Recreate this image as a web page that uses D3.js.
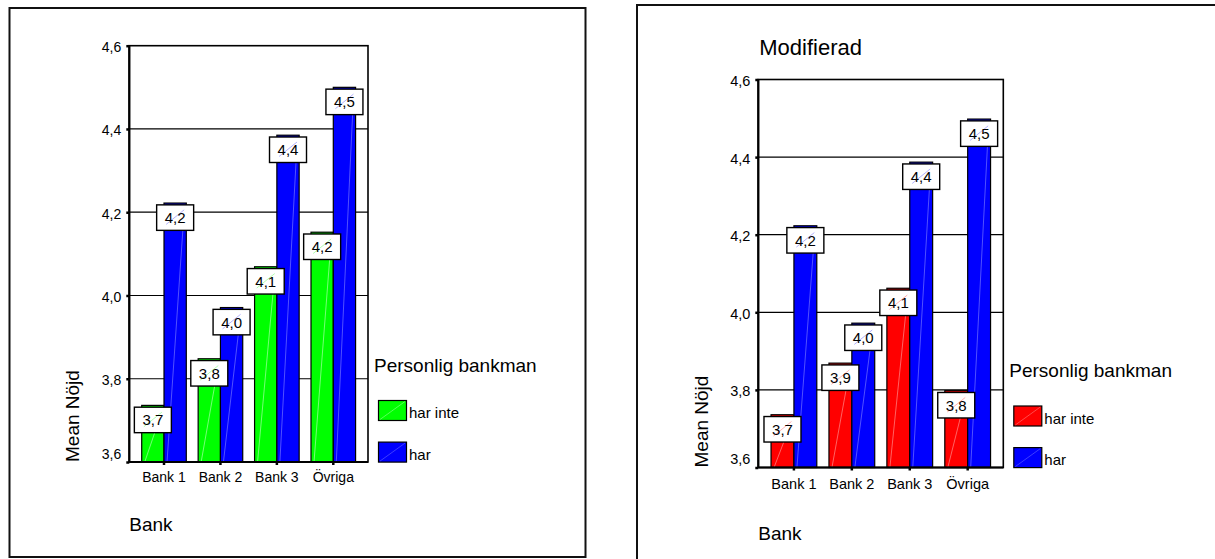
<!DOCTYPE html>
<html>
<head>
<meta charset="utf-8">
<script src="https://cdn.jsdelivr.net/npm/d3@7"></script>
<style>
  html, body { margin: 0; padding: 0; background: #fff; }
  svg { display: block; font-family: "Liberation Sans", Arial, sans-serif; }
</style>
</head>
<body>
<svg id="chart" width="1215" height="559"></svg>
<script>
// ---- data ----
const categories = ["Bank 1", "Bank 2", "Bank 3", "Övriga"];
const seriesNames = ["har inte", "har"];
const yTicks = [3.6, 3.8, 4.0, 4.2, 4.4, 4.6];
const yDomain = [3.6, 4.6];

// left chart
const leftHarInte = [3.736, 3.848, 4.069, 4.152];
const leftHar     = [4.222, 3.971, 4.385, 4.500];
// right chart ("Modifierad")
const rightHarInte = [3.736, 3.869, 4.062, 3.798];
const rightHar     = [4.223, 3.972, 4.387, 4.498];

const legendTitle = "Personlig bankman";
const yTitle = "Mean Nöjd";
const xTitle = "Bank";

const fmt = v => d3.format(".1f")(v).replace(".", ",");
const svg = d3.select("#chart");

function drawPanel(o) {
  const g = svg.append("g");
  // frame
  g.append("rect").attr("x", o.frame[0]).attr("y", o.frame[1])
    .attr("width", o.frame[2]).attr("height", o.frame[3])
    .attr("fill", "none").attr("stroke", "#111").attr("stroke-width", 2);

  const x = d3.scaleBand().domain(categories).range([o.x0, o.x1])
    .paddingInner(0.21).paddingOuter(0.22);
  const xs = d3.scaleBand().domain(seriesNames).range([0, x.bandwidth()]);
  const y = d3.scaleLinear().domain(yDomain).range([o.y1, o.y0]);

  // gridlines
  g.append("g").selectAll("line").data(yTicks.slice(1, -1)).join("line")
    .attr("x1", o.x0).attr("x2", o.x1)
    .attr("y1", d => y(d)).attr("y2", d => y(d))
    .attr("stroke", "#000").attr("stroke-width", 1.2);

  // bars
  const rows = [];
  categories.forEach((c, i) => {
    rows.push({c, s: seriesNames[0], v: o.series[0][i], col: o.colors[0], light: o.lights[0]});
    rows.push({c, s: seriesNames[1], v: o.series[1][i], col: o.colors[1], light: o.lights[1]});
  });
  const bars = g.append("g");
  bars.selectAll("rect").data(rows).join("rect")
    .attr("x", d => x(d.c) + xs(d.s))
    .attr("y", d => y(d.v))
    .attr("width", xs.bandwidth())
    .attr("height", d => y(yDomain[0]) - y(d.v))
    .attr("fill", d => d.col)
    .attr("stroke", "#000").attr("stroke-width", 1.2);
  bars.selectAll("line").data(rows).join("line")
    .attr("x1", d => x(d.c) + xs(d.s) + 3)
    .attr("y1", y(yDomain[0]))
    .attr("x2", d => x(d.c) + xs(d.s) + xs.bandwidth() - 2)
    .attr("y2", d => y(d.v) + 6)
    .attr("stroke", d => d.light).attr("stroke-width", 0.8).attr("opacity", 0.7);

  // plot border
  g.append("rect").attr("x", o.x0).attr("y", o.y0)
    .attr("width", o.x1 - o.x0).attr("height", o.y1 - o.y0)
    .attr("fill", "none").attr("stroke", "#000").attr("stroke-width", 1.6);
  g.append("line").attr("x1", o.x0).attr("x2", o.x0).attr("y1", o.y0).attr("y2", o.y1)
    .attr("stroke", "#000").attr("stroke-width", 2.2);
  g.append("line").attr("x1", o.x0).attr("x2", o.x1).attr("y1", o.y1).attr("y2", o.y1)
    .attr("stroke", "#000").attr("stroke-width", 2.2);

  // y axis
  const ya = g.append("g").attr("transform", `translate(${o.x0},0)`)
    .call(d3.axisLeft(y).tickValues(yTicks).tickSize(3).tickPadding(5).tickFormat(fmt));
  ya.select(".domain").remove();
  ya.selectAll(".tick line").attr("stroke", "#000").attr("stroke-width", 2.5);
  ya.selectAll(".tick text")
    .attr("font-family", "Liberation Sans, Arial, sans-serif")
    .attr("font-size", o.tickFont).attr("fill", "#000")
    .attr("dy", d => d === yDomain[0] ? "-0.25em" : "0.42em");

  // x axis
  const xa = g.append("g").attr("transform", `translate(0,${o.y1})`)
    .call(d3.axisBottom(x).tickSize(3).tickPadding(o.xPad));
  xa.select(".domain").remove();
  xa.selectAll(".tick line").attr("stroke", "#000").attr("stroke-width", 2.5);
  xa.selectAll(".tick text")
    .attr("font-family", "Liberation Sans, Arial, sans-serif")
    .attr("font-size", o.tickFont).attr("fill", "#000");

  // value labels
  const lab = g.append("g");
  const bw = 37, bh = 25.5;
  const lg = lab.selectAll("g").data(rows).join("g")
    .attr("transform", d => `translate(${x(d.c) + xs(d.s) + xs.bandwidth() / 2},${y(d.v) + 1.8})`);
  lg.append("rect").attr("x", -bw / 2).attr("y", 0).attr("width", bw).attr("height", bh)
    .attr("fill", "#fff").attr("stroke", "#000").attr("stroke-width", 1.4);
  lg.append("line").attr("x1", -9).attr("y1", bh - 6).attr("x2", 9).attr("y2", 5)
    .attr("stroke", d => d.col).attr("stroke-width", 0.6).attr("opacity", 0.5);
  lg.append("text").attr("x", 0).attr("y", 18.3).attr("text-anchor", "middle")
    .attr("font-size", o.labelFont).attr("fill", "#000").text(d => fmt(d.v));

  // axis titles
  g.append("text")
    .attr("transform", `translate(${o.x0 - 50},${o.y1}) rotate(-90)`)
    .attr("font-size", 19).attr("fill", "#000").text(yTitle);
  g.append("text").attr("x", o.x0).attr("y", o.y1 + o.xTitleOff)
    .attr("font-size", 19).attr("fill", "#000").text(xTitle);

  if (o.title) {
    g.append("text").attr("x", o.x0 + 1).attr("y", o.y0 - 24.5)
      .attr("font-size", 22).attr("fill", "#000").text(o.title);
  }

  // legend
  const lx = o.x1 + 6;
  g.append("text").attr("x", lx).attr("y", o.y1 - 90.5)
    .attr("font-size", 19).attr("fill", "#000").text(legendTitle);
  seriesNames.forEach((s, i) => {
    const top = o.y1 - 61.5 + i * 41.6;
    g.append("rect").attr("x", lx + 4.5).attr("y", top).attr("width", 28).attr("height", 20)
      .attr("fill", o.colors[i]).attr("stroke", "#000").attr("stroke-width", 1.2);
    g.append("line").attr("x1", lx + 6).attr("y1", top + 19).attr("x2", lx + 31).attr("y2", top + 1)
      .attr("stroke", o.lights[i]).attr("stroke-width", 0.6).attr("opacity", 0.7);
    g.append("text").attr("x", lx + 35).attr("y", top + 17.5)
      .attr("font-size", 15).attr("fill", "#000").text(s);
  });
}

drawPanel({
  frame: [9.5, 8, 576, 549],
  x0: 129.3, x1: 368, y0: 45.7, y1: 462,
  series: [leftHarInte, leftHar],
  colors: ["#00ff00", "#0000ff"],
  lights: ["#d0ffd0", "#9090ff"],
  tickFont: 14, labelFont: 15, xPad: 7, xTitleOff: 69
});
drawPanel({
  frame: [637, 5, 620, 600],
  x0: 758.3, x1: 1003.3, y0: 79.5, y1: 467.5,
  series: [rightHarInte, rightHar],
  colors: ["#ff0000", "#0000ff"],
  lights: ["#ffb0b0", "#9090ff"],
  tickFont: 14.5, labelFont: 15, xPad: 8.5, xTitleOff: 72,
  title: "Modifierad"
});
</script>
</body>
</html>
